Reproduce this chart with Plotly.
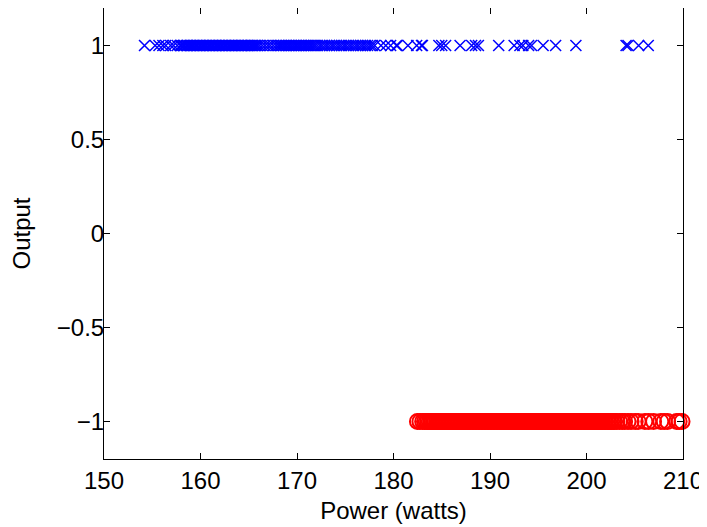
import plotly.graph_objects as go

# Class +1 (blue crosses): power values in watts
power_pos = [
    154.2, 155.3, 155.7, 156.1, 156.4, 156.9, 157.2, 157.6, 157.9,
    158.05, 158.21, 158.34, 158.52, 158.66, 158.81, 158.97, 159.12, 159.25, 159.43,
    159.58, 159.71, 159.88, 160.02, 160.17, 160.33, 160.46, 160.61, 160.79, 160.92,
    161.08, 161.24, 161.37, 161.55, 161.69, 161.83, 161.99, 162.14, 162.28, 162.45,
    162.59, 162.73, 162.90, 163.04, 163.19, 163.35, 163.48, 163.64, 163.79, 163.93,
    164.10, 164.24, 164.39, 164.53, 164.70, 164.84, 164.98, 165.15, 165.29, 165.44,
    165.60, 165.75, 165.91, 166.12, 166.41, 166.69, 166.98, 167.24, 167.55, 167.83,
    168.06, 168.24, 168.41, 168.57, 168.76, 168.93, 169.10, 169.27, 169.45, 169.62,
    169.80, 169.96, 170.13, 170.31, 170.48, 170.66, 170.83, 171.01, 171.18, 171.36,
    171.53, 171.71, 171.89, 172.12, 172.38, 172.61, 172.87, 173.10, 173.36, 173.62,
    173.85, 174.11, 174.37, 174.60, 174.86, 175.09, 175.35, 175.58, 175.84, 176.10,
    176.33, 176.59, 176.82, 177.08, 177.31, 177.57, 177.80, 178.05,
    178.7, 179.2, 179.7, 180.3, 180.4, 181.5, 182.4, 182.9, 183.0,
    184.7, 185.0, 185.4, 186.9, 188.1, 188.5, 188.8, 190.9, 192.5, 193.1,
    193.4, 194.0, 194.3, 195.5, 196.8, 198.9, 204.1, 204.3, 205.4, 206.4,
]
output_pos = [1] * len(power_pos)

# Class -1 (red circles): power values in watts
power_neg = [
    182.48, 182.74, 183.02, 183.21, 183.39, 183.55, 183.70, 183.86, 184.01, 184.17,
    184.32, 184.48, 184.63, 184.79, 184.94, 185.10, 185.25, 185.41, 185.56, 185.72,
    185.87, 186.03, 186.18, 186.34, 186.49, 186.65, 186.80, 186.96, 187.11, 187.27,
    187.42, 187.58, 187.73, 187.89, 188.04, 188.20, 188.35, 188.51, 188.66, 188.82,
    188.97, 189.13, 189.28, 189.44, 189.59, 189.75, 189.90, 190.06, 190.21, 190.37,
    190.52, 190.68, 190.83, 190.99, 191.14, 191.30, 191.45, 191.61, 191.76, 191.92,
    192.07, 192.23, 192.38, 192.54, 192.69, 192.85, 193.00, 193.16, 193.31, 193.47,
    193.62, 193.78, 193.93, 194.09, 194.24, 194.40, 194.55, 194.71, 194.86, 195.02,
    195.17, 195.33, 195.48, 195.64, 195.79, 195.95, 196.10, 196.26, 196.41, 196.57,
    196.72, 196.88, 197.03, 197.19, 197.34, 197.50, 197.65, 197.81, 197.96, 198.12,
    198.27, 198.43, 198.58, 198.74, 198.89, 199.05, 199.20, 199.36, 199.51, 199.67,
    199.82, 199.98, 200.13, 200.29, 200.44, 200.60, 200.75, 200.91, 201.06, 201.22,
    201.37, 201.53, 201.68, 201.84, 201.99, 202.15, 202.30, 202.46, 202.61, 202.77,
    202.92, 203.15, 203.42, 203.70, 203.95, 204.30, 204.62, 205.05, 205.35, 206.05,
    206.45, 206.95, 207.70, 208.05, 208.40, 209.35, 209.60, 209.90,
]
output_neg = [-1] * len(power_neg)

x_ticks = [150, 160, 170, 180, 190, 200, 210]
y_ticks = [-1, -0.5, 0, 0.5, 1]
y_tick_labels = ["\u22121", "\u22120.5", "0", "0.5", "1"]

FONT = "Liberation Sans, Arial, Helvetica, sans-serif"

fig = go.Figure()
fig.add_trace(go.Scatter(
    x=power_pos, y=output_pos, mode="markers", cliponaxis=False,
    marker=dict(symbol="x-thin-open", size=11, color="#0000FF",
                line=dict(color="#0000FF", width=1.5)),
    showlegend=False,
))
fig.add_trace(go.Scatter(
    x=power_neg, y=output_neg, mode="markers", cliponaxis=False,
    marker=dict(symbol="circle-open", size=15, color="#FF0000",
                line=dict(color="#FF0000", width=2)),
    showlegend=False,
))

axis_common = dict(
    showgrid=False, zeroline=False, showline=True, linecolor="black", linewidth=1,
    mirror="ticks", ticks="inside", ticklen=6, tickwidth=1, tickcolor="black",
    tickfont=dict(family=FONT, size=24, color="black"),
)

# The page body adds an 8px margin, so the figure is sized to fit the window.
fig.update_layout(
    width=699, height=519,
    margin=dict(l=96, r=24, t=0, b=68),
    paper_bgcolor="white", plot_bgcolor="white",
    font=dict(family=FONT, size=24, color="black"),
    xaxis=dict(range=[150, 210], tickvals=x_ticks, ticktext=[str(t) for t in x_ticks],
               title=dict(text="Power (watts)", font=dict(family=FONT, size=24), standoff=9),
               **axis_common),
    yaxis=dict(range=[-1.2, 1.2], tickvals=y_ticks, ticktext=y_tick_labels,
               ticklabelstandoff=-6,
               title=dict(text="Output", font=dict(family=FONT, size=24), standoff=19),
               **axis_common),
)

fig.write_html("out.html")
